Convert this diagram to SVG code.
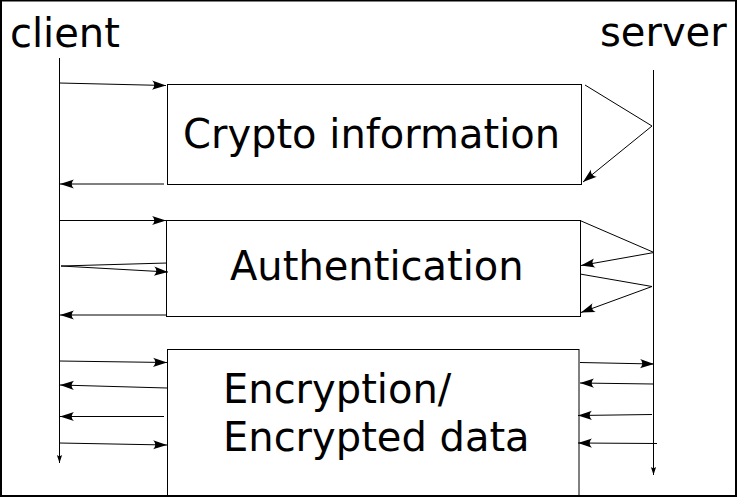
<svg xmlns="http://www.w3.org/2000/svg" width="737" height="497" viewBox="0 0 737 497">
<defs>
<style>
.ln{fill:none;stroke:#000;stroke-width:1}
.msg{marker-end:url(#ah)}
.life{marker-end:url(#lh)}
.box{fill:#fff;stroke:#000;stroke-width:1}
.t{font-family:"DejaVu Sans","Bitstream Vera Sans",sans-serif;font-size:40px;fill:#000}
</style>
<marker id="ah" markerUnits="userSpaceOnUse" markerWidth="20" markerHeight="12" viewBox="-15 -6 16 12" refX="0" refY="0" orient="auto" overflow="visible">
<path d="M0,0 L-14,-4.6 C-11,-1.8 -11,1.8 -14,4.6 Z" fill="#000"/>
</marker>
<marker id="lh" markerUnits="userSpaceOnUse" markerWidth="10" markerHeight="8" viewBox="-9 -4 10 8" refX="0" refY="0" orient="auto" overflow="visible">
<path d="M0,0 L-8,-2.6 C-6.5,-1 -6.5,1 -8,2.6 Z" fill="#000"/>
</marker>
</defs>
<rect x="1" y="0.5" width="735" height="495.5" fill="#fff" stroke="#000" stroke-width="2"/>
<text class="t" x="10" y="47">client</text>
<text class="t" x="600" y="46">server</text>
<g id="box-crypto">
<rect class="box" x="167.5" y="84.5" width="414" height="100"/>
<text class="t" x="183" y="148">Crypto information</text>
</g>
<g id="box-auth">
<rect class="box" x="166.5" y="220.5" width="414" height="96"/>
<text class="t" x="230" y="279.5">Authentication</text>
</g>
<g id="box-enc">
<rect class="box" x="167.5" y="349.5" width="411.5" height="146"/>
<text class="t" x="223" y="403">Encryption/</text>
<text class="t" x="223" y="451">Encrypted data</text>
</g>
<g id="connectors">
<path class="ln life" d="M59.5,58 L59.5,463"/>
<path class="ln life" d="M653.5,70 L653.5,475"/>
<path class="ln msg" d="M59,83 L166,85.5"/>
<path class="ln msg" d="M164,184 L60,184"/>
<path class="ln msg" d="M585,85 L652,126 L583,182"/>
<path class="ln msg" d="M59,220.5 L166,220.5"/>
<path class="ln msg" d="M167,263 L61,266 L168,272"/>
<path class="ln msg" d="M166,315 L60,315"/>
<path class="ln msg" d="M580,220.5 L654,252.5 L581,265.5"/>
<path class="ln msg" d="M580,274 L652,286.5 L581,312.5"/>
<path class="ln msg" d="M59,361 L167,362.5"/>
<path class="ln msg" d="M167,388 L60,385"/>
<path class="ln msg" d="M164,416.5 L60,416.5"/>
<path class="ln msg" d="M59,443 L167,445"/>
<path class="ln msg" d="M580,362.5 L654,364"/>
<path class="ln msg" d="M653,384 L580,383"/>
<path class="ln msg" d="M652,414.5 L578,415.5"/>
<path class="ln msg" d="M657,443.5 L578,443"/>
</g>
</svg>
